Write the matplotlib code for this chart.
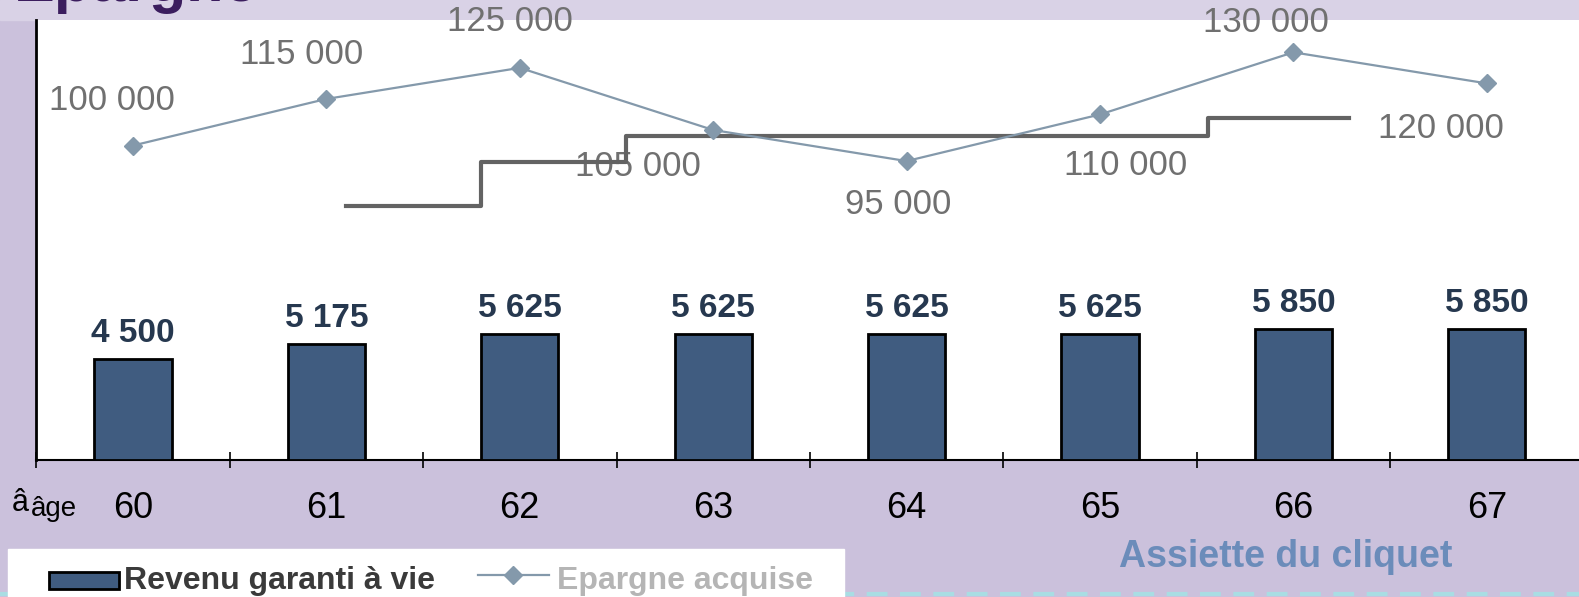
import numpy as np
import matplotlib
matplotlib.use('Agg')
import matplotlib.pyplot as plt
from matplotlib.lines import Line2D
from matplotlib.patches import Rectangle

plt.rcParams['font.family'] = ['Liberation Sans', 'DejaVu Sans']

# data
ages = ['60', '61', '62', '63', '64', '65', '66', '67']
revenu = [4500, 5175, 5625, 5625, 5625, 5625, 5850, 5850]
epargne = [100000, 115000, 125000, 105000, 95000, 110000, 130000, 120000]
# assiette du cliquet (step line), x in category units
cliquet_x = [1.10, 1.80, 2.55, 5.56, 6.29]
cliquet_y = [80500, 94800, 103200, 109000, 109000]

# label offsets for the savings values (pixels)
lab_off = [(-21, 45), (-25, 44), (-10, 46), (-75, -36),
           (-8, -43), (26, -51), (-27, 30), (-46, -45)]

W, H = 1579, 597
fig = plt.figure(figsize=(W/100, H/100), dpi=100)
fig.patch.set_facecolor('#cbc1dc')

# background band on top (slide header)
fig.add_artist(Rectangle((0, 1-20/H), 1, 20/H, transform=fig.transFigure,
                         color='#d9d2e6', zorder=0))
# dashed line of slide
fig.add_artist(Line2D([0, 1], [1-594/H, 1-594/H], transform=fig.transFigure,
                      color='#a9dde3', lw=3, dashes=(5, 3), zorder=1))

left, right, top, bot = 36.3, 36.3+8*193.4, 20, 460
ax = fig.add_axes([left/W, 1-bot/H, (right-left)/W, (bot-top)/H])
ax.set_facecolor('white')
x = np.arange(len(ages))
ax.bar(x, revenu, width=0.40, color='#405c80', edgecolor='black', lw=2, zorder=3)
for xi, v in zip(x, revenu):
    ax.annotate(f'{v:,}'.replace(',', ' '), (xi, v), xytext=(0, 17),
                textcoords='offset pixels', ha='center', va='baseline',
                fontsize=24, fontweight='bold', color='#26384f')
ax.set_xlim(-0.5, 7.5)
ax.set_ylim(0, 19660)
ax.set_yticks([])
ax.set_xticks(x)
ax.set_xticklabels(ages, fontsize=26, color='black')
ax.tick_params(axis='x', which='major', length=0, pad=22)
ax.set_xticks(np.arange(-0.5, 8, 1), minor=True)
ax.tick_params(axis='x', which='minor', direction='inout', length=11, width=1.2)
for s in ['top', 'right']:
    ax.spines[s].set_visible(False)
ax.spines['left'].set_linewidth(2)
ax.spines['bottom'].set_linewidth(1.5)

ax2 = ax.twinx()
ax2.set_ylim(-1200, 140400)
ax2.axis('off')
ax2.plot(x, epargne, color='#8499ab', lw=1.6, marker='D', ms=9.5,
         markeredgecolor='#8499ab', zorder=4)
for xi, v, (dx, dy) in zip(x, epargne, lab_off):
    ax2.annotate(f'{v:,}'.replace(',', ' '), (xi, v), xytext=(dx, dy),
                 textcoords='offset pixels', ha='center', va='center',
                 fontsize=25, color='#707070')
ax2.plot(cliquet_x, cliquet_y, drawstyle='steps-post', color='#636363', lw=3, zorder=3)

# title partially cut at top
fig.text(14/W, 1-1/H, 'Epargne', fontsize=44, fontweight='bold', color='#3b1d5e',
         ha='left', va='baseline')

# age label
fig.text(12/W, 1-503/H, 'â', fontsize=22, ha='left', va='center')
fig.text(31/W, 1-509/H, 'âge', fontsize=20, ha='left', va='center')

# legend box
fig.add_artist(Rectangle((8/W, 0), (844-8)/W, (H-549)/H, transform=fig.transFigure,
                         color='white', zorder=2))
fig.add_artist(Rectangle((49/W, 1-589/H), 70/W, 17/H, transform=fig.transFigure,
                         facecolor='#405c80', edgecolor='black', lw=2, zorder=3))
fig.text(124/W, 1-581/H, 'Revenu garanti à vie', fontsize=23, fontweight='bold',
         color='#3a3a3a', ha='left', va='center', zorder=3)
fig.add_artist(Line2D([478/W, 549/W], [1-575/H, 1-575/H], transform=fig.transFigure,
                      color='#8499ab', lw=1.6, zorder=3))
fig.add_artist(Line2D([513/W], [1-575/H], transform=fig.transFigure, marker='D',
                      ms=9.5, color='#8499ab', zorder=3))
fig.text(557/W, 1-581/H, 'Epargne acquise', fontsize=23, fontweight='bold',
         color='#b5b5b5', ha='left', va='center', zorder=3)

fig.text(1286/W, 1-557/H, 'Assiette du cliquet', fontsize=27, fontweight='bold',
         color='#6b8cba', ha='center', va='center')

fig.savefig('out.png', dpi=100, facecolor=fig.get_facecolor())
